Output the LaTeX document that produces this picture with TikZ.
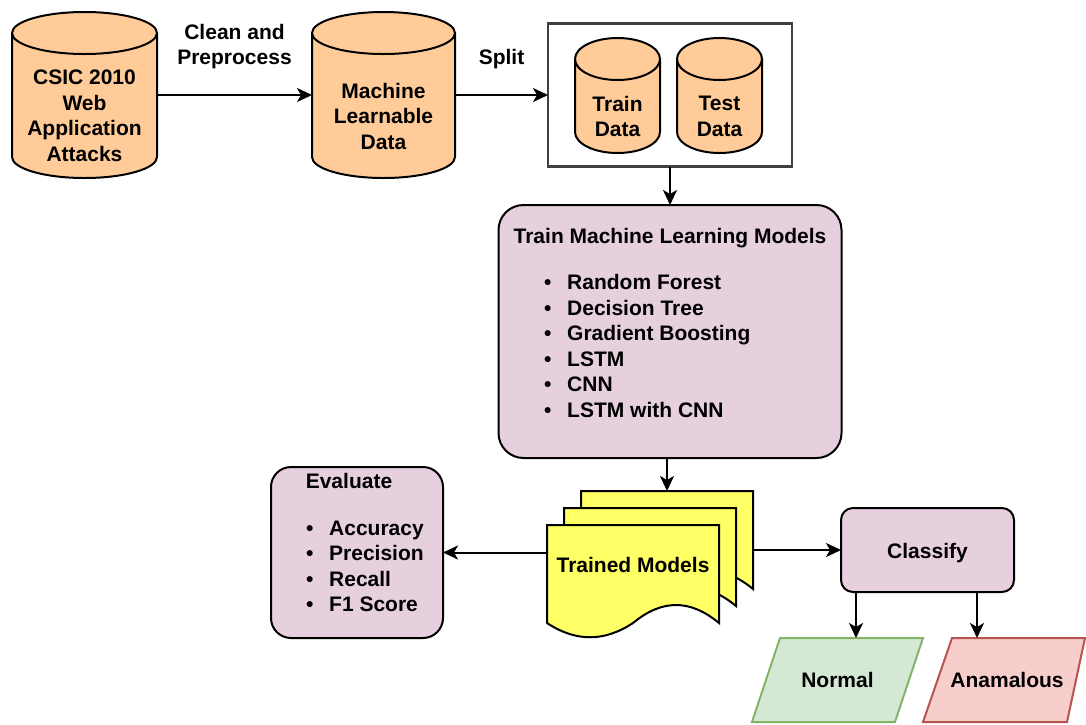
\documentclass[tikz,border=0pt]{standalone}
\usepackage{fontspec}
\setmainfont{Liberation Sans}
\usepackage{xcolor}
\usepackage{tikz}
\usetikzlibrary{shapes.geometric,arrows.meta,positioning,calc,backgrounds}

\definecolor{dbfill}{HTML}{FFCC99}
\definecolor{stepfill}{HTML}{E6D0DE}
\definecolor{pagefill}{HTML}{FFFF66}
\definecolor{okfill}{HTML}{D5E8D4}
\definecolor{okline}{HTML}{82B366}
\definecolor{badfill}{HTML}{F8CECC}
\definecolor{badline}{HTML}{B85450}

% one bullet line of a list
\newcommand{\bulletline}[1]{\makebox[23pt][l]{\textbullet}#1}

% database drum: name, x, y, width, height, text
\newcommand{\dbdrum}[6]{%
  \node[dbnode, minimum width=#4, minimum height=#5] (#1) at (#2,#3) {};
  \filldraw[dbline] ([yshift=-21pt]#1.north west) -- ([yshift=21pt]#1.south west)
    arc[start angle=180, end angle=0, x radius=#4/2, y radius=21]
    -- ([yshift=-21pt]#1.north east)
    arc[start angle=0, end angle=-180, x radius=#4/2, y radius=21] -- cycle
    ([yshift=-21pt]#1.north west) arc[start angle=180, end angle=0, x radius=#4/2, y radius=21];
  \node[txt] (#1-label) at ([yshift=-21pt]#1.center) {#6};
}

% one sheet of the stacked document
\newcommand{\modelpage}[1]{%
  \filldraw[pageline] (#1.north west) -- (#1.north east) -- ($(#1.south east)+(0,18)$)
    .. controls ($(#1.south east)+(-29,-6)$) and ($(#1.south)+(29,-6)$) .. ($(#1.south)+(0,18)$)
    .. controls ($(#1.south)+(-29,37)$) and ($(#1.south west)+(29,37)$) .. ($(#1.south west)+(0,18)$)
    -- cycle;
}

% slanted outcome box: name, left slant, right slant, colours
\newcommand{\slantbox}[4]{%
  \filldraw[line width=2pt, #4] (#1.south west) -- ([xshift=#2]#1.north west) -- (#1.north east)
    -- ([xshift=-#3]#1.south east) -- cycle;
}

\begin{document}
\begin{tikzpicture}[x=1pt, y=-1pt,
    font=\fontsize{21}{25.5}\selectfont\bfseries,
    flow/.style={line width=2pt, -{Stealth[length=15pt, width=14pt, inset=4pt]}},
    dbnode/.style={rectangle, inner sep=0pt, outer sep=0pt},
    dbline/.style={draw=black, line width=2pt, fill=dbfill},
    txt/.style={inner sep=0pt, align=center},
    stepbox/.style={rectangle, rounded corners=25pt, draw, line width=2pt, fill=stepfill, outer sep=0pt},
    pagenode/.style={rectangle, minimum width=172, minimum height=80, inner sep=0pt, outer sep=0pt},
    pageline/.style={draw, line width=2pt, fill=pagefill},
    outcome/.style={rectangle, minimum height=84, inner sep=0pt, outer sep=0pt}]
    \useasboundingbox (0,0) rectangle (1086,724);

    % data preparation
    \node[draw=black!75, line width=2.5pt, minimum width=244, minimum height=143, outer sep=0pt] (splitbox) at (670,95) {};
    \dbdrum{csic}{84.5}{95}{145}{166}{CSIC 2010\\Web\\Application\\Attacks}
    \dbdrum{mldata}{383.5}{95}{143}{166}{Machine\\Learnable\\Data}
    \dbdrum{traindata}{617.5}{95.5}{85}{115}{Train\\Data}
    \dbdrum{testdata}{719.5}{95.5}{85}{115}{Test\\Data}

    \draw[flow] (csic) -- node[txt, above=25pt] {Clean and\\Preprocess} (mldata);
    \draw[flow] (mldata) -- node[txt, above=25pt] {Split} (splitbox);

    % training
    \node[stepbox, minimum width=343, minimum height=253] (train) at (670,331.5) {};
    \node[txt, anchor=base] (trainhead) at (670,243.5) {Train Machine Learning Models};
    \node[txt, align=left, anchor=north west] (trainlist) at (544,274.2) {\bulletline{Random Forest}\\\bulletline{Decision Tree}\\\bulletline{Gradient Boosting}\\\bulletline{LSTM}\\\bulletline{CNN}\\\bulletline{LSTM with CNN}};
    \draw[flow] (splitbox) -- (train);

    % stacked trained models
    \node[pagenode] (modelsback) at (667,531) {};
    \node[pagenode] (modelsmid) at (650,548) {};
    \node[pagenode] (models) at (633,565) {Trained Models};
    \draw[flow] (train.south -| modelsback.north) -- (modelsback.north);

    % evaluation
    \node[stepbox, rounded corners=20pt, minimum width=172, minimum height=171] (evaluate) at (357,552.5) {};
    \node[txt, anchor=base] (evalhead) at (349,488.5) {Evaluate};
    \node[txt, align=left, anchor=north west] (evallist) at (306,520.5) {\bulletline{Accuracy}\\\bulletline{Precision}\\\bulletline{Recall}\\\bulletline{F1 Score}};
    \draw[flow] (models.west |- evaluate.east) -- (evaluate.east);

    % classification
    \node[stepbox, rounded corners=12pt, minimum width=173, minimum height=84] (classify) at (927.5,550) {};
    \node[txt, anchor=base] (classifytext) at (927.5,558.5) {Classify};
    \draw[flow] (modelsback.east |- classify.west) -- (classify.west);

    \node[outcome, minimum width=171] (normal) at (837.5,680) {Normal};
    \node[outcome, minimum width=162] (anamalous) at (1004,680) {\hspace*{6pt}Anamalous};
    \draw[flow] ([xshift=-71.5pt]classify.south) -- ([xshift=-71.5pt]classify.south |- normal.north);
    \draw[flow] ([xshift=49.5pt]classify.south) -- ([xshift=49.5pt]classify.south |- anamalous.north);

    \begin{scope}[on background layer]
        \modelpage{modelsback}
        \modelpage{modelsmid}
        \modelpage{models}
        \slantbox{normal}{28pt}{28pt}{fill=okfill, draw=okline}
        \slantbox{anamalous}{29pt}{18pt}{fill=badfill, draw=badline}
    \end{scope}
\end{tikzpicture}
\end{document}
